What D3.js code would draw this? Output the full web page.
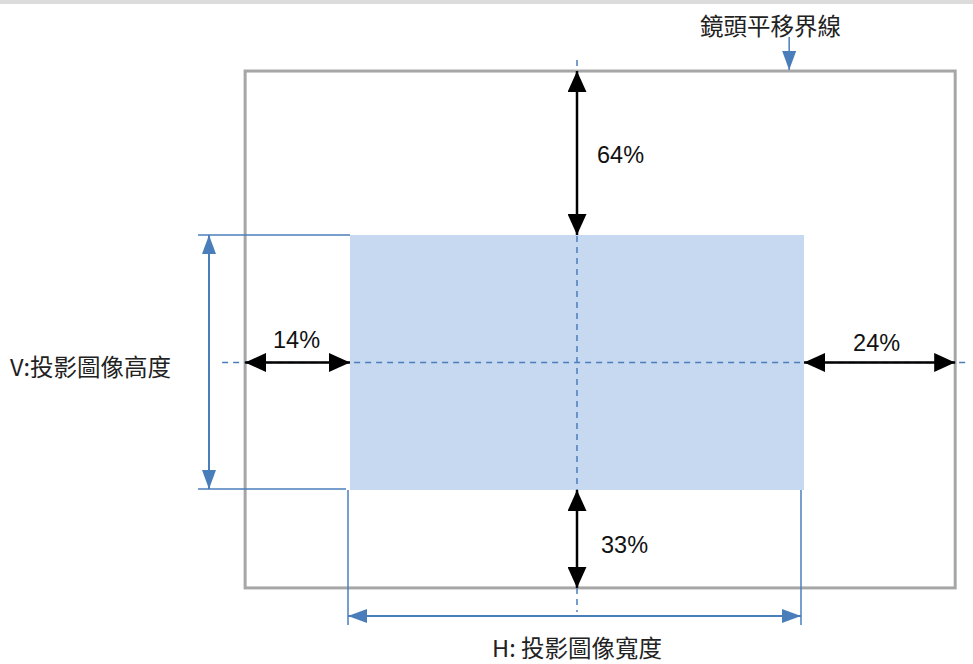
<!DOCTYPE html>
<html>
<head>
<meta charset="utf-8">
<script src="https://cdn.jsdelivr.net/npm/d3@7"></script>
<style>
  body { margin: 0; background: #fff; }
  svg { display: block; }
  .pct { font: 23.5px "Liberation Sans", Arial, sans-serif; fill: #111; }
  .cjk { font: 23.5px "Noto Sans CJK TC", "Noto Sans", sans-serif; fill: #222; }
</style>
</head>
<body>
<div id="chart"></div>
<script>
// shift limits, measured in image units (image is 1 x 1, centred on the lens axis)
const shiftLabels = ['64%', '33%', '14%', '24%'];
const shiftSides = ['top', 'bottom', 'left', 'right'];
const boundary = { left: -0.731, right: 0.833, top: -1.143, bottom: 0.884 };
const imageExtent = [-0.5, 0.5];
const titleLabels = ['鏡頭平移界線', 'V:投影圖像高度', 'H: 投影圖像寬度'];

const width = 973, height = 664;
const blue = '#4a7ebb', black = '#000';

const x = d3.scaleLinear().domain(imageExtent).range([350, 804]);
const y = d3.scaleLinear().domain(imageExtent).range([235, 490]);

const svg = d3.select('#chart').append('svg')
  .attr('width', width).attr('height', height);

const defs = svg.append('defs');
function marker(id, color, w, l) {
  defs.append('marker')
    .attr('id', id)
    .attr('viewBox', `0 ${-w / 2} ${l} ${w}`)
    .attr('refX', l).attr('refY', 0)
    .attr('markerUnits', 'userSpaceOnUse')
    .attr('markerWidth', l).attr('markerHeight', w)
    .attr('orient', 'auto-start-reverse')
    .append('path')
    .attr('d', `M0,${-w / 2}L${l},0L0,${w / 2}Z`)
    .attr('fill', color);
}
marker('blk', black, 19, 21);
marker('blu', blue, 14, 19);

// grey strip at the top
svg.append('rect').attr('x', 0).attr('y', 0).attr('width', width).attr('height', 4).attr('fill', '#dcdcdc');

// projected image
svg.append('rect')
  .attr('x', x(-0.5)).attr('y', y(-0.5))
  .attr('width', x(0.5) - x(-0.5)).attr('height', y(0.5) - y(-0.5))
  .attr('fill', '#c6d9f1');

// lens shift boundary
svg.append('rect')
  .attr('x', x(boundary.left)).attr('y', y(boundary.top))
  .attr('width', x(boundary.right) - x(boundary.left))
  .attr('height', y(boundary.bottom) - y(boundary.top))
  .attr('fill', 'none').attr('stroke', '#a6a6a6').attr('stroke-width', 3);

// centre dashed axes
svg.append('line')
  .attr('x1', x(0)).attr('x2', x(0))
  .attr('y1', y(boundary.top) - 11).attr('y2', y(boundary.bottom) + 24)
  .attr('stroke', blue).attr('stroke-width', 1.5).attr('stroke-dasharray', '6,5');
svg.append('line')
  .attr('x1', x(boundary.left) - 23).attr('x2', x(boundary.right) + 15)
  .attr('y1', y(0)).attr('y2', y(0))
  .attr('stroke', blue).attr('stroke-width', 1.5).attr('stroke-dasharray', '6,5');

// black shift arrows
const shiftLines = {
  top:    [x(0), y(-0.5), x(0), y(boundary.top)],
  bottom: [x(0), y(0.5), x(0), y(boundary.bottom)],
  left:   [x(-0.5), y(0), x(boundary.left), y(0)],
  right:  [x(0.5), y(0), x(boundary.right), y(0)]
};
const labelPos = {
  top:    [x(0) + 20, (y(-0.5) + y(boundary.top)) / 2 + 10, 'start'],
  bottom: [x(0) + 24, (y(0.5) + y(boundary.bottom)) / 2 + 14, 'start'],
  left:   [(x(-0.5) + x(boundary.left)) / 2 - 1, y(0) - 15, 'middle'],
  right:  [(x(0.5) + x(boundary.right)) / 2 - 3, y(0) - 12, 'middle']
};
shiftSides.forEach((s, i) => {
  const [x1, y1, x2, y2] = shiftLines[s];
  svg.append('line')
    .attr('x1', x1).attr('y1', y1).attr('x2', x2).attr('y2', y2)
    .attr('stroke', black).attr('stroke-width', 2.5)
    .attr('marker-start', 'url(#blk)').attr('marker-end', 'url(#blk)');
  const [lx, ly, anchor] = labelPos[s];
  svg.append('text').attr('class', 'pct')
    .attr('x', lx).attr('y', ly).attr('text-anchor', anchor)
    .text(shiftLabels[i]);
});

// vertical dimension (image height)
const dimX = x(-0.5) - 141;
svg.append('line').attr('x1', dimX - 11).attr('x2', x(-0.5)).attr('y1', y(-0.5)).attr('y2', y(-0.5))
  .attr('stroke', blue).attr('stroke-width', 1.5);
svg.append('line').attr('x1', dimX - 11).attr('x2', x(-0.5) - 4).attr('y1', y(0.5) - 1).attr('y2', y(0.5) - 1)
  .attr('stroke', blue).attr('stroke-width', 1.5);
svg.append('line').attr('x1', dimX).attr('x2', dimX).attr('y1', y(-0.5)).attr('y2', y(0.5) - 1)
  .attr('stroke', blue).attr('stroke-width', 2)
  .attr('marker-start', 'url(#blu)').attr('marker-end', 'url(#blu)');

// horizontal dimension (image width)
const dimY = y(0.5) + 126;
const hx1 = x(-0.5) - 2, hx2 = x(0.5) - 3;
[hx1, hx2].forEach(v => {
  svg.append('line').attr('x1', v).attr('x2', v).attr('y1', y(0.5)).attr('y2', dimY + 9)
    .attr('stroke', blue).attr('stroke-width', 1.5);
});
svg.append('line').attr('x1', hx1).attr('x2', hx2).attr('y1', dimY).attr('y2', dimY)
  .attr('stroke', blue).attr('stroke-width', 2)
  .attr('marker-start', 'url(#blu)').attr('marker-end', 'url(#blu)');

// boundary pointer
const px = x(boundary.right) - 166;
svg.append('line').attr('x1', px).attr('x2', px).attr('y1', 37).attr('y2', y(boundary.top) - 1)
  .attr('stroke', blue).attr('stroke-width', 1.5).attr('marker-end', 'url(#blu)');

svg.append('text').attr('class', 'cjk').attr('x', 700).attr('y', 35).text(titleLabels[0]);
svg.append('text').attr('class', 'cjk').attr('x', 10).attr('y', 376).text(titleLabels[1]);
svg.append('text').attr('class', 'cjk').attr('x', x(0)).attr('y', 657)
  .attr('text-anchor', 'middle').text(titleLabels[2]);
</script>
</body>
</html>
